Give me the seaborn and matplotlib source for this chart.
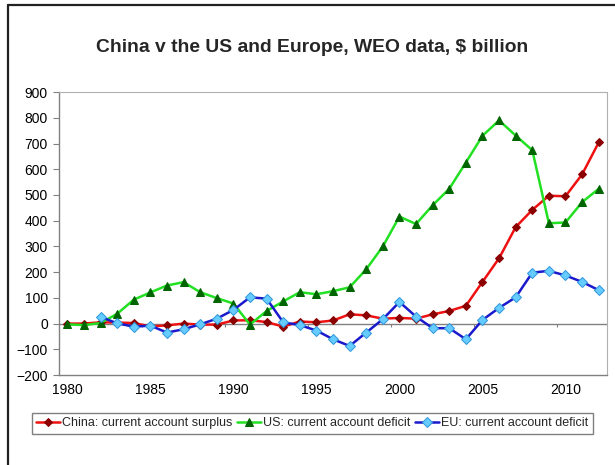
import numpy as np
import pandas as pd
import matplotlib
matplotlib.use("Agg")
import matplotlib.pyplot as plt
import seaborn as sns
from matplotlib.lines import Line2D

years = list(range(1980, 2013))

# China: current account surplus ($ billion)
china = [0, 0, 5, 4, 2, -11, -7, 0, -4, -4, 12, 13, 6, -12, 8,
         5, 12, 36, 32, 19, 22, 19, 36, 49, 69, 162, 254, 375, 442,
         497, 495, 580, 704]
# US: current account deficit
us = [-3, -6, 2, 38, 93, 121, 148, 161, 122, 99, 78, -4, 49, 86, 122,
      114, 126, 141, 211, 300, 416, 387, 460, 524, 626, 730, 790, 731,
      674, 390, 393, 472, 524]
# EU: current account deficit (starts 1982)
eu = [np.nan, np.nan, 26, 1, -12, -8, -35, -22, -3, 19, 53, 102, 97, 5, -6,
      -27, -61, -87, -35, 17, 84, 27, -18, -18, -61, 14, 61, 102, 198,
      205, 187, 162, 130]

labels = ["China: current account surplus", "US: current account deficit",
          "EU: current account deficit"]

df = pd.DataFrame({"year": years, "china": china, "us": us, "eu": eu})

sns.set_style("white")
plt.rcParams["font.family"] = ["Liberation Sans", "DejaVu Sans"]

fig = plt.figure(figsize=(6.15, 4.65), dpi=100)
ax = fig.add_axes([0.096, 0.1935, 0.891, 0.6085])

sns.lineplot(data=df, x="year", y="china", color="#ee1111", lw=1.8,
             marker="D", markersize=4.5, markerfacecolor="#8b0000",
             markeredgecolor="#8b0000", ax=ax, label=labels[0])
sns.lineplot(data=df, x="year", y="us", color="#22e022", lw=1.8,
             marker="^", markersize=5.5, markerfacecolor="#006400",
             markeredgecolor="#006400", ax=ax, label=labels[1])
sns.lineplot(data=df.dropna(), x="year", y="eu", color="#1a1acc", lw=1.8,
             marker="D", markersize=5, markerfacecolor="#66ccff",
             markeredgecolor="#3399dd", ax=ax, label=labels[2])

# zero line with category tick marks
ax.axhline(0, color="#808080", lw=1, zorder=1)
tick_pos = [y + 4.5 for y in years[::5]]
ax.vlines(tick_pos, -12, 0, color="#808080", lw=0.8, zorder=1)

ax.set_xlim(1979.5, 2012.5)
ax.set_ylim(-200, 900)
ax.set_xticks(years[::5])
ax.set_yticks(range(-200, 901, 100))
ax.set_xlabel("")
ax.set_ylabel("")
ax.tick_params(axis="both", labelsize=10, colors="#000000")
ax.tick_params(axis="y", length=4, width=0.8, color="#808080", direction="out",
               left=True, pad=4)
ax.tick_params(axis="x", length=0, pad=6)
for side in ["top", "right"]:
    ax.spines[side].set_color("#b0b0b0")
    ax.spines[side].set_linewidth(0.8)
for side in ["left", "bottom"]:
    ax.spines[side].set_color("#808080")
    ax.spines[side].set_linewidth(1)

ax.legend_.remove()
handles, hl = ax.get_legend_handles_labels()
fig.legend(handles[:3], hl[:3], loc="center", bbox_to_anchor=(0.508, 0.09),
           ncol=3, fontsize=9, frameon=True, fancybox=False, edgecolor="#808080",
           handlelength=1.9, handletextpad=0.15, columnspacing=0.4,
           borderpad=0.35, borderaxespad=0.2, framealpha=1)

fig.text(0.508, 0.897, "China v the US and Europe, WEO data, $ billion",
         ha="center", va="center", fontsize=13.9, fontweight="bold")

# outer frame (top and left edges)
fig.add_artist(Line2D([0.013, 1.0], [0.989, 0.989], transform=fig.transFigure,
                      color="#222222", lw=1.6))
fig.add_artist(Line2D([0.013, 0.013], [0.0, 0.989], transform=fig.transFigure,
                      color="#222222", lw=1.6))

fig.savefig("out.png", dpi=100)
